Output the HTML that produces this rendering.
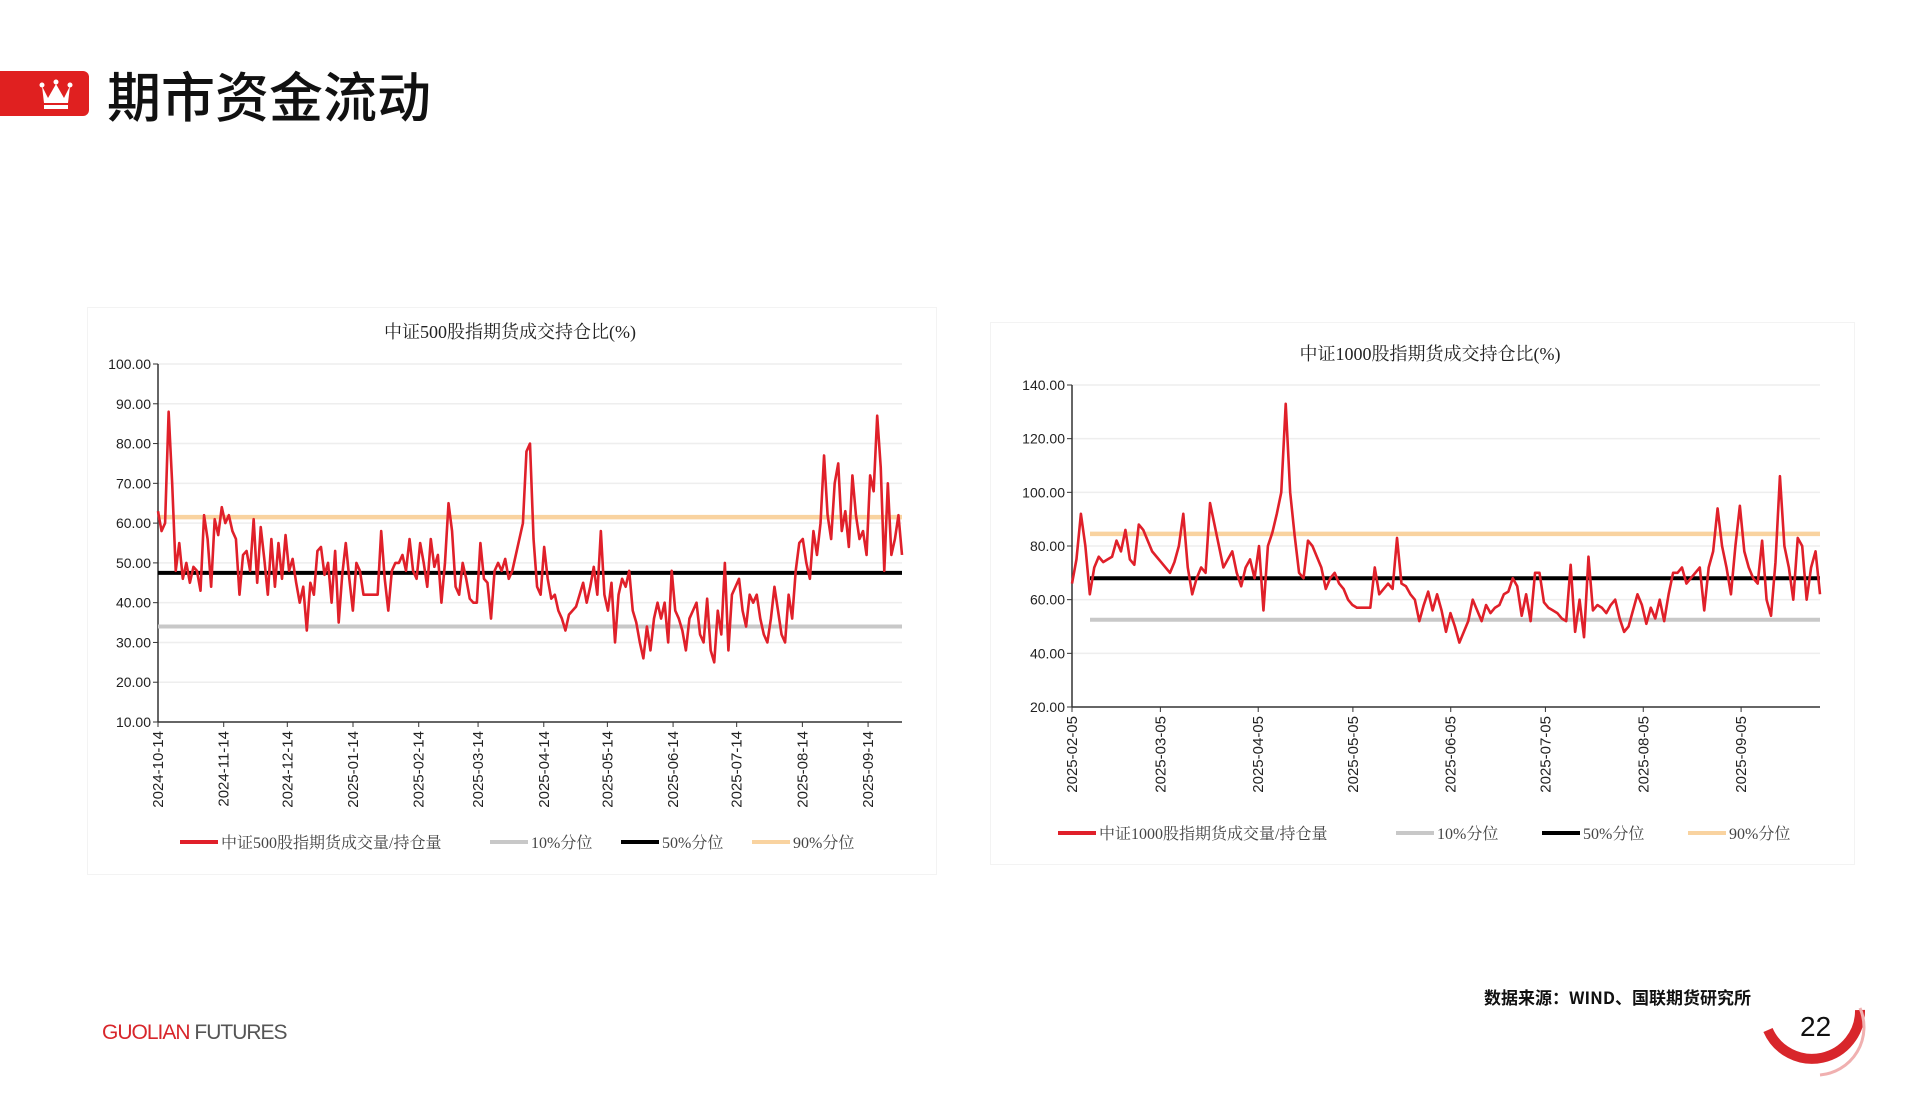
<!DOCTYPE html>
<html><head><meta charset="utf-8">
<style>
body{margin:0;width:1919px;height:1114px;background:#fff;position:relative;overflow:hidden;font-family:"Liberation Sans","Noto Sans CJK SC",sans-serif;}
.abs{position:absolute}
</style></head>
<body>
<div class="abs" style="left:0;top:71px;width:89px;height:45px;background:#e02020;border-radius:0 6px 6px 0"></div>
<svg class="abs" style="left:36px;top:76px" width="40" height="36" viewBox="0 0 40 36">
<path d="M6 10 L12 22 L20 8 L28 22 L34 10 L32 27 L8 27 Z" fill="#fff"/><rect x="8" y="29" width="24" height="4" fill="#fff"/>
<circle cx="6" cy="9" r="2.5" fill="#fff"/><circle cx="20" cy="6" r="2.5" fill="#fff"/><circle cx="34" cy="9" r="2.5" fill="#fff"/></svg>
<div class="abs" style="left:107px;top:62px;font-size:54px;color:#111;font-family:'Noto Sans CJK SC',sans-serif;font-weight:500;line-height:64px">期市资金流动</div>

<div class="abs" style="left:87px;top:307px;width:848px;height:566px;border:1px solid #f3f3f3"></div>
<div class="abs" style="left:990px;top:322px;width:863px;height:541px;border:1px solid #f3f3f3"></div>

<svg class="abs" style="left:0;top:0" width="1919" height="1114" id="svg"></svg>

<div class="abs" style="left:102px;top:1021px;font-size:21px;letter-spacing:-1px"><span style="color:#d8262b">GUOLIAN</span> <span style="color:#555">FUTURES</span></div>
<div class="abs" style="left:1484px;top:984px;font-size:17px;font-weight:bold;color:#111;font-family:'Noto Sans CJK SC',sans-serif">数据来源：WIND、国联期货研究所</div>
<svg class="abs" style="left:1760px;top:990px" width="110" height="90"><path d="M8 40 A48 48 0 0 0 100 20" stroke="#d8262b" stroke-width="10" fill="none"/><path d="M100 18 A48 48 0 0 1 60 85" stroke="#f0b0b0" stroke-width="3" fill="none"/></svg>
<div class="abs" style="left:1800px;top:1011px;font-size:28px;color:#111">22</div>

<script>
const c1Ticks=["2024-10-14","2024-11-14","2024-12-14","2025-01-14","2025-02-14","2025-03-14","2025-04-14","2025-05-14","2025-06-14","2025-07-14","2025-08-14","2025-09-14"];
const c1Y=[10,20,30,40,50,60,70,80,90,100];
const c1Series=[63,58,60,88,70,48,55,46,50,45,49,48,43,62,56,44,61,57,64,60,62,58,56,42,52,53,48,61,45,59,51,42,56,44,55,46,57,48,51,45,40,44,33,45,42,53,54,47,50,40,53,35,47,55,46,38,50,48,42,42,42,42,42,58,46,38,48,50,50,52,48,56,48,46,55,50,44,56,49,52,40,50,65,58,44,42,50,46,41,40,40,55,46,45,36,48,50,48,51,46,48,52,56,60,78,80,56,44,42,54,46,41,42,38,36,33,37,38,39,42,45,40,44,49,42,58,42,38,45,30,42,46,44,48,38,35,30,26,34,28,36,40,36,40,30,48,38,36,33,28,36,38,40,32,30,41,28,25,38,32,50,28,42,44,46,38,34,42,40,42,36,32,30,36,44,38,32,30,42,36,48,55,56,50,46,58,52,60,77,62,56,70,75,58,63,54,72,62,56,58,52,72,68,87,74,48,70,52,56,62,52];
const c1Ref=[34,47.5,61.5];
const c2Ticks=["2025-02-05","2025-03-05","2025-04-05","2025-05-05","2025-06-05","2025-07-05","2025-08-05","2025-09-05"];
const c2Y=[20,40,60,80,100,120,140];
const c2Series=[66,75,92,80,62,72,76,74,75,76,82,78,86,75,73,88,86,82,78,76,74,72,70,74,80,92,72,62,68,72,70,96,88,80,72,75,78,70,65,72,75,68,80,56,80,85,92,100,133,100,84,70,68,82,80,76,72,64,68,70,66,64,60,58,57,57,57,57,72,62,64,66,64,83,66,65,62,60,52,58,63,56,62,56,48,55,50,44,48,52,60,56,52,58,55,57,58,62,63,68,65,54,62,52,70,70,59,57,56,55,53,52,73,48,60,46,76,56,58,57,55,58,60,53,48,50,56,62,58,51,57,53,60,52,62,70,70,72,66,68,70,72,56,72,78,94,80,72,62,80,95,78,72,68,66,82,60,54,74,106,80,72,60,83,80,60,72,78,62];
const c2Ref=[52.5,68,84.5];
const refColors=["#c8c8c8","#000","#f9d3a0"];

const svg=document.getElementById('svg');const NS="http://www.w3.org/2000/svg";
function mk(t,a,p){const e=document.createElementNS(NS,t);for(const k in a)e.setAttribute(k,a[k]);(p||svg).appendChild(e);return e;}
function chart(o){
  const g=mk('g',{});
  
  
  const t0=Date.parse(o.start),t1=Date.parse(o.end);
  const xd=d=>o.L+(Date.parse(d)-t0)/(t1-t0)*(o.R-o.L);
  const xi=i=>o.L+i/(o.data.length-1)*(o.R-o.L);
  const y=v=>o.B-(v-o.ymin)/(o.ymax-o.ymin)*(o.B-o.T);
  const tt=mk('text',{x:o.tx,y:o.ty,'text-anchor':'middle','font-size':18,fill:'#222','font-family':'"Liberation Serif","Noto Serif CJK SC",serif'},g);tt.textContent=o.title;
  
  
  o.yt.forEach(v=>{
    if(v!==o.ymin)mk('line',{x1:o.L,x2:o.R,y1:y(v),y2:y(v),stroke:'#eeeeee','stroke-width':1.5},g);
    mk('line',{x1:o.L-5,x2:o.L,y1:y(v),y2:y(v),stroke:'#333'},g);
    const l=mk('text',{x:o.L-7,y:y(v)+5,'text-anchor':'end','font-size':14,fill:'#222'},g);l.textContent=v.toFixed(2);
    
    
  });
  mk('line',{x1:o.L,x2:o.L,y1:o.T,y2:o.B,stroke:'#333','stroke-width':1.5},g);
  mk('line',{x1:o.L,x2:o.R,y1:o.B,y2:o.B,stroke:'#333','stroke-width':1.5},g);
  o.xt.forEach(d=>{
    const x=xd(d);
    mk('line',{x1:x,x2:x,y1:o.B,y2:o.B+5,stroke:'#333'},g);
    const l=mk('text',{x:0,y:0,'text-anchor':'end','font-size':15,fill:'#222',transform:`translate(${x+5},${o.B+9}) rotate(-90)`},g);l.textContent=d;
    
    
  });
  const ws=[4,4,4.5];
  o.ref.forEach((v,i)=>{const l=mk('line',{x1:o.L+(o.refInset||0),x2:o.R,y1:y(v),y2:y(v),stroke:refColors[i],'stroke-width':ws[i]},g);
    
    });
  const p=mk('polyline',{points:o.data.map((v,i)=>xi(i)+','+y(v)).join(' '),fill:'none',stroke:'#e0202a','stroke-width':2.6,'stroke-linejoin':'round'},g);
  
  
  const items=[["#e0202a",o.leg0],["#c8c8c8","10%分位"],["#000","50%分位"],["#f9d3a0","90%分位"]];
  items.forEach((it,i)=>{
    const lx=o.lx[i];
    mk('line',{x1:lx,x2:lx+38,y1:o.ly,y2:o.ly,stroke:it[0],'stroke-width':4},g);
    const l=mk('text',{x:lx+41,y:o.ly+6,'font-size':16,fill:'#444','font-family':'"Liberation Serif","Noto Serif CJK SC",serif'},g);l.textContent=it[1];
    
    
  });
}
chart({name:'chart-zz500',title:'中证500股指期货成交持仓比(%)',tx:510,ty:338,L:158,R:902,T:364,B:722,ymin:10,ymax:100,yt:c1Y,xt:c1Ticks,start:'2024-10-14',end:'2025-09-30',data:c1Series,ref:c1Ref,leg0:'中证500股指期货成交量/持仓量',lx:[180,490,621,752],ly:842});
chart({name:'chart-zz1000',title:'中证1000股指期货成交持仓比(%)',tx:1430,ty:360,L:1072,R:1820,T:385,B:707,ymin:20,ymax:140,yt:c2Y,xt:c2Ticks,start:'2025-02-05',end:'2025-09-30',data:c2Series,ref:c2Ref,refInset:18,leg0:'中证1000股指期货成交量/持仓量',lx:[1058,1396,1542,1688],ly:833});
</script>
</body></html>
